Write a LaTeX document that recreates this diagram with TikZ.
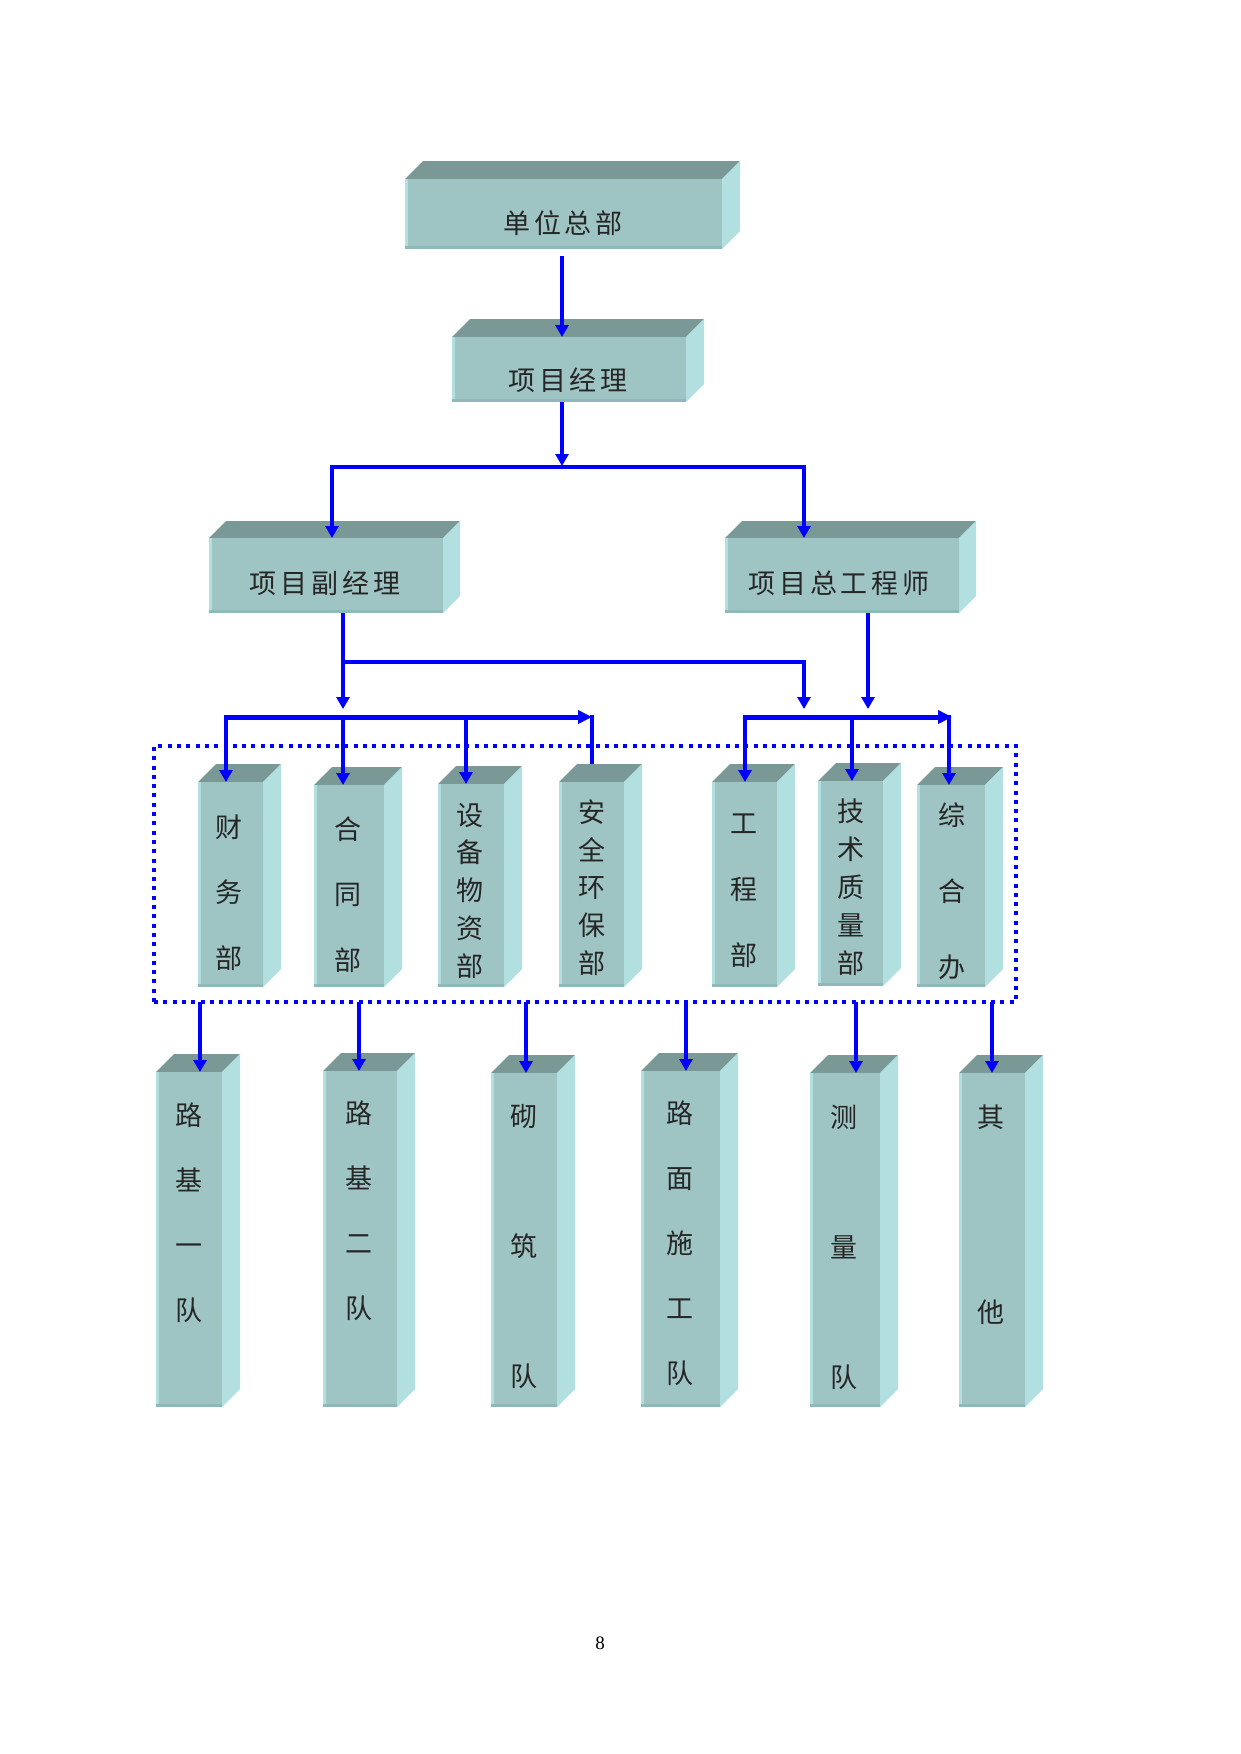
\documentclass[tikz,border=0pt]{standalone}
\usepackage{fontspec}
\setmainfont{Liberation Serif}
\newfontfamily\cjk{Noto Sans CJK SC}
\usetikzlibrary{arrows.meta}
\definecolor{frontc}{RGB}{158,196,196}
\definecolor{topc}{RGB}{122,153,150}
\definecolor{sidec}{RGB}{178,224,224}
\definecolor{botc}{RGB}{143,184,184}
\definecolor{lnblue}{RGB}{0,0,255}
\newcommand\spc{\kern4pt\relax}
\newcommand\cubebox[6]{%
  \fill[topc] (#2,#3) -- ({#2+#6},{#3-#6}) -- ({#4+#6},{#3-#6}) -- (#4,#3) -- cycle;
  \fill[sidec] (#4,#3) -- ({#4+#6},{#3-#6}) -- ({#4+#6},{#5-#6}) -- (#4,#5) -- cycle;
  \node[frontface, minimum width={(#4-#2)*1pt}, minimum height={(#5-#3)*1pt}] (#1) at ({(#2+#4)/2},{(#3+#5)/2}) {};
  \fill[sidec] (#1.north west) rectangle ([xshift=2.5pt]#1.south west);
  \fill[botc] ([yshift=3pt]#1.south west) rectangle (#1.south east);
}
\tikzset{
  frontface/.style={fill=frontc, inner sep=0pt, outer sep=0pt},
  hlab/.style={font=\cjk\fontsize{27}{27}\selectfont, inner sep=0pt, text=black!85},
  vlab/.style={font=\cjk\fontsize{27}{#1}\selectfont, inner sep=0pt, align=center, text=black!85},
  tip/.style={-{Triangle[width=13pt,length=12pt]}},
  stem/.style={draw=lnblue, line width=4.5pt, tip},
  plainstem/.style={draw=lnblue, line width=4.5pt},
  hl/.style={draw=lnblue, line width=3.3pt, line cap=rect},
  bus/.style={draw=lnblue, line width=5pt, -{Triangle[width=13pt,length=14pt]}},
  grpbox/.style={draw=lnblue, line width=4pt, dash pattern=on 4pt off 5.3pt, inner sep=0pt, outer sep=0pt}
}
\begin{document}
\begin{tikzpicture}[x=1pt,y=-1pt]
\fill[white] (0,0) rectangle (1241,1754);
\useasboundingbox (0,0) rectangle (1241,1754);

% group frame
\node[grpbox, minimum width=862pt, minimum height=256pt] (grp) at (585,874) {};

% boxes
\cubebox{hq}{405}{179}{722}{249}{18}
\cubebox{pm}{452}{337}{686}{402}{18}
\cubebox{vpm}{209}{538}{443}{613}{17}
\cubebox{ce}{725}{538}{959}{613}{17}
\cubebox{d1}{198}{782}{263}{987}{18}
\cubebox{d2}{314}{785}{384}{987}{18}
\cubebox{d3}{438}{784}{504}{987}{18}
\cubebox{d4}{559}{782}{624}{987}{18}
\cubebox{d5}{712}{782}{777}{987}{18}
\cubebox{d6}{818}{781}{883}{986}{18}
\cubebox{d7}{917}{785}{985}{987}{18}
\cubebox{t1}{156}{1072}{222}{1407}{18}
\cubebox{t2}{323}{1071}{397}{1407}{18}
\cubebox{t3}{491}{1073}{557}{1407}{18}
\cubebox{t4}{641}{1071}{720}{1407}{18}
\cubebox{t5}{810}{1073}{880}{1407}{18}
\cubebox{t6}{959}{1073}{1025}{1407}{18}

% labels
\node[hlab] (hqt) at (563,223) {单\spc 位\spc 总\spc 部};
\node[hlab] (pmt) at (568,380) {项\spc 目\spc 经\spc 理};
\node[hlab] (vpmt) at (325,583) {项\spc 目\spc 副\spc 经\spc 理};
\node[hlab] (cet) at (839,583) {项\spc 目\spc 总\spc 工\spc 程\spc 师};
\node[vlab=65.5] (d1t) at (229,892.5) {财\\务\\部};
\node[vlab=65.5] (d2t) at (348,894.5) {合\\同\\部};
\node[vlab=37.75] (d3t) at (470,890.5) {设\\备\\物\\资\\部};
\node[vlab=37.75] (d4t) at (592,887.5) {安\\全\\环\\保\\部};
\node[vlab=66] (d5t) at (744,891) {工\\程\\部};
\node[vlab=38] (d6t) at (851,887) {技\\术\\质\\量\\部};
\node[vlab=76] (d7t) at (952,891) {综\\合\\办};
\node[vlab=65] (t1t) at (189,1212.5) {路\\基\\一\\队};
\node[vlab=65] (t2t) at (359,1210.5) {路\\基\\二\\队};
\node[vlab=130] (t3t) at (524,1247) {砌\\筑\\队};
\node[vlab=65] (t4t) at (680,1243) {路\\面\\施\\工\\队};
\node[vlab=130] (t5t) at (844,1247) {测\\量\\队};
\node[vlab=195] (t6t) at (991,1214.5) {其\\他};

% page number
\node[font=\fontsize{19}{19}\selectfont, inner sep=0pt] (pg) at (600,1643) {8};

% connectors level 1-2
\coordinate (xa) at (562,0);
\draw[stem] ([yshift=-7pt]hq.south -| xa) -- (pm.north -| xa);
\coordinate (ja) at (562,466);
\draw[stem] (pm.south -| ja) -- (ja);
\coordinate (jl) at (332,467);
\coordinate (jr) at (804,467);
\draw[hl] (jl) -- (jr);
\draw[stem] ([yshift=1.5pt]jl) -- (vpm.north -| jl);
\draw[stem] ([yshift=1.5pt]jr) -- (ce.north -| jr);

% connectors level 2-3
\coordinate (sa) at (343,709);
\draw[stem] (vpm.south -| sa) -- (sa);
\coordinate (ba) at (343,662);
\coordinate (bb) at (804,662);
\coordinate (bc) at (804,709);
\draw[hl] (ba) -- (bb);
\draw[stem, line width=3.6pt] ([yshift=1.5pt]bb) -- (bc);
\coordinate (sb) at (868,709);
\draw[stem] (ce.south -| sb) -- (sb);

% left bus
\coordinate (la) at (226,717);
\coordinate (lb) at (343,717);
\coordinate (lc) at (466,717);
\coordinate (ld) at (592,717);
\draw[bus] ([xshift=-2.2pt]la) -- (ld);
\draw[stem] ([yshift=2pt]la) -- (d1.north -| la);
\draw[stem] ([yshift=2pt]lb) -- (d2.north -| lb);
\draw[stem] ([yshift=2pt]lc) -- (d3.north -| lc);
\draw[plainstem] ([yshift=2pt]ld) -- ([yshift=18pt]d4.north -| ld);

% right bus
\coordinate (ra) at (745,717);
\coordinate (rb) at (852,717);
\coordinate (rc) at (949,717);
\draw[bus] ([xshift=-2.2pt]ra) -- ([xshift=3pt]rc);
\draw[stem] ([yshift=2pt]ra) -- (d5.north -| ra);
\draw[stem] ([yshift=2pt]rb) -- (d6.north -| rb);
\draw[stem] ([yshift=2pt]rc) -- (d7.north -| rc);

% bottom drops
\coordinate (ea) at (200,0);
\coordinate (eb) at (359,0);
\coordinate (ec) at (526,0);
\coordinate (ed) at (686,0);
\coordinate (ee) at (856,0);
\coordinate (ef) at (992,0);
\draw[stem] (grp.south -| ea) -- (t1.north -| ea);
\draw[stem] (grp.south -| eb) -- (t2.north -| eb);
\draw[stem] (grp.south -| ec) -- (t3.north -| ec);
\draw[stem] (grp.south -| ed) -- (t4.north -| ed);
\draw[stem] (grp.south -| ee) -- (t5.north -| ee);
\draw[stem] (grp.south -| ef) -- (t6.north -| ef);
\end{tikzpicture}
\end{document}
